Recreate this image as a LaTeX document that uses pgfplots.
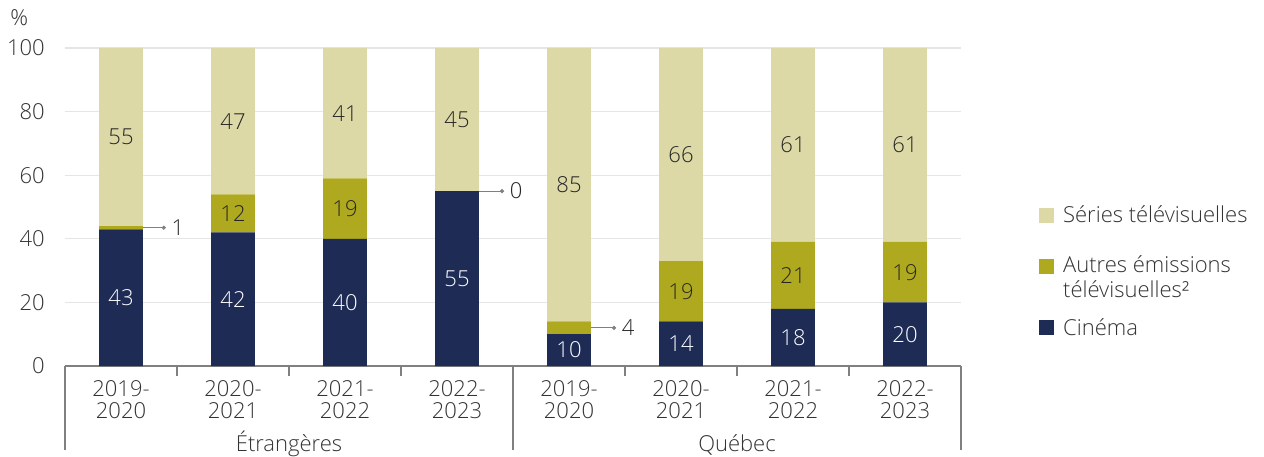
\documentclass[border=0pt]{standalone}
\usepackage{fontspec}
\IfFontExistsTF{Open Sans Light}{\setmainfont{Open Sans Light}}{\setmainfont{Open Sans}}
\usepackage{pgfplots}
\pgfplotsset{compat=1.18}
\usepackage{pgfplotstable}
\usetikzlibrary{arrows.meta}
\definecolor{serc}{HTML}{DDD9A6}
\definecolor{autc}{HTML}{AFA91F}
\definecolor{cinc}{HTML}{1E2B55}
\definecolor{gridc}{HTML}{E5E5E5}
\definecolor{axisc}{HTML}{808080}
\definecolor{txtc}{HTML}{333333}
\definecolor{labc}{HTML}{262626}

\pgfplotstableread{
x cin aut ser serlab
0 43 1 56 55
1 42 12 46 47
2 40 19 41 41
3 55 0 45 45
4 10 4 86 85
5 14 19 67 66
6 18 21 61 61
7 20 19 61 61
}\data

\newcommand{\lf}{\fontsize{16.5}{17}\selectfont}
\newcommand{\lgf}{\fontsize{16.5}{15.75}\selectfont}
\pgfplotsset{
  sq legend/.style={legend image code/.code={\fill[##1] (0pt,-5.6pt) rectangle (11.25pt,5.6pt);}},
  sq legend up/.style={legend image code/.code={\fill[##1] (0pt,2.65pt) rectangle (11.25pt,13.85pt);}},
  sq legend ov/.style={legend image code/.code={\fill[##1, overlay] (0pt,-5.6pt) rectangle (11.25pt,5.6pt);}},
}

\begin{document}
\begin{tikzpicture}
\useasboundingbox (0,0) rectangle (948pt,342.75pt);
\begin{axis}[
  at={(48.75pt,68.25pt)}, anchor=south west,
  scale only axis, width=672pt, height=238.5pt,
  xmin=-0.5, xmax=7.5, ymin=0, ymax=100,
  clip=false,
  ybar stacked, bar width=0.39,
  axis x line*=bottom, axis y line*=left,
  y axis line style={draw=none},
  x axis line style={axisc, line width=1pt},
  ytick={0,20,...,100},
  ymajorgrids, grid style={gridc, line width=1pt},
  ytick style={draw=none}, xtick style={draw=none},
  xtick={0,...,7},
  xticklabels={{2019-\\2020},{2020-\\2021},{2021-\\2022},{2022-\\2023},{2019-\\2020},{2020-\\2021},{2021-\\2022},{2022-\\2023}},
  xticklabel style={align=center, anchor=north, inner sep=0pt, yshift=-10.5pt, font=\lf, text=txtc},
  yticklabel style={anchor=east, inner sep=0pt, xshift=-15pt, font=\lf, text=txtc},
  /pgf/number format/assume math mode=true,
  legend style={at={(1.087,0.513)}, anchor=north west, draw=none, fill=none, inner sep=0pt,
    row sep=19.5pt, font=\lgf, text=txtc, cells={anchor=west, align=left},
    /tikz/every odd column/.append style={column sep=4.5pt}},
  legend cell align=left,
  reverse legend,
]
\addplot[fill=cinc, draw=none, sq legend ov, nodes near coords, point meta=explicit symbolic,
  every node near coord/.append style={anchor=center, font=\lf, text=white}]
  table[x=x, y=cin, meta=cin] {\data};
\addlegendentry[overlay]{Cinéma}
\addplot[fill=autc, draw=none, sq legend up,
  nodes near coords={\ifnum\pgfplotspointmeta<5 \else\pgfplotspointmeta\fi},
  point meta=explicit symbolic,
  every node near coord/.append style={anchor=center, font=\lf, text=labc}]
  table[x=x, y=aut, meta=aut] {\data};
\addlegendentry{Autres émissions\\[2.5pt]télévisuelles²}
\addplot[fill=serc, draw=none, sq legend, nodes near coords, point meta=explicit symbolic,
  every node near coord/.append style={anchor=center, font=\lf, text=labc}]
  table[x=x, y=ser, meta=serlab] {\data};
\addlegendentry{Séries télévisuelles}

% callouts for small values
\draw[axisc, line width=0.75pt, -{Circle[length=3pt]}] (axis cs:0.195,43.5) -- (axis cs:0.4,43.5);
\node[anchor=west, inner sep=0pt, font=\lf, text=labc] at (axis cs:0.45,43.5) {1};
\draw[axisc, line width=0.75pt, -{Circle[length=3pt]}] (axis cs:3.195,55) -- (axis cs:3.42,55);
\node[anchor=west, inner sep=0pt, font=\lf, text=labc] at (axis cs:3.47,55) {0};
\draw[axisc, line width=0.75pt, -{Circle[length=3pt]}] (axis cs:4.195,12) -- (axis cs:4.42,12);
\node[anchor=west, inner sep=0pt, font=\lf, text=labc] at (axis cs:4.47,12) {4};

% category separators
\pgfplotsinvokeforeach{0.5,1.5,2.5,4.5,5.5,6.5}{
  \draw[axisc, line width=1pt] (axis cs:#1,0) -- ++(0pt,-7.5pt);
}
\pgfplotsinvokeforeach{-0.5,3.5,7.5}{
  \draw[axisc, line width=1pt] (axis cs:#1,0) -- ++(0pt,-63pt);
}
\node[anchor=base, font=\lf, text=txtc] at ([yshift=-63.75pt]axis cs:1.5,0) {Étrangères};
\node[anchor=base, font=\lf, text=txtc] at ([yshift=-63.75pt]axis cs:5.5,0) {Québec};
\node[anchor=west, inner sep=0pt, font=\lf, text=txtc] at ([xshift=-41.25pt, yshift=22.5pt]rel axis cs:0,1) {\%};
\end{axis}
\end{tikzpicture}
\end{document}
